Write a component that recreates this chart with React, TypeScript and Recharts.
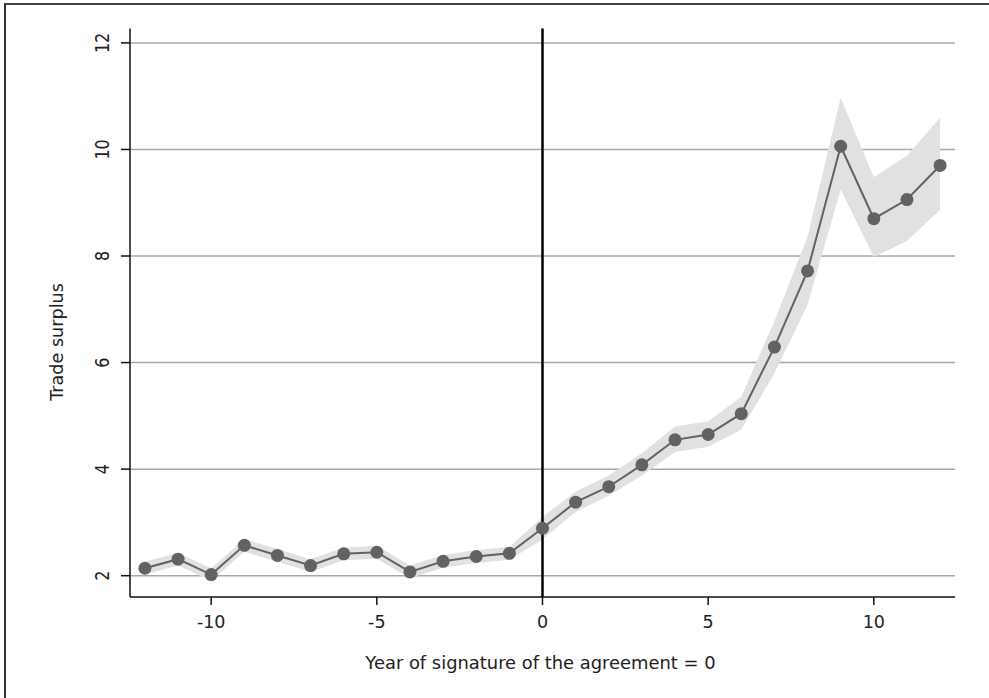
import React from 'react'
import { ComposedChart, Line, Area, XAxis, YAxis, CartesianGrid, ReferenceLine } from 'recharts'

const years = [-12, -11, -10, -9, -8, -7, -6, -5, -4, -3, -2, -1, 0, 1, 2, 3, 4, 5, 6, 7, 8, 9, 10, 11, 12]
const estimate = [2.14, 2.31, 2.02, 2.57, 2.38, 2.19, 2.41, 2.44, 2.07, 2.27, 2.36, 2.42, 2.89, 3.38, 3.67, 4.08, 4.55, 4.65, 5.04, 6.29, 7.72, 10.06, 8.7, 9.06, 9.7]
const lower = [2.02, 2.19, 1.9, 2.45, 2.26, 2.07, 2.29, 2.32, 1.95, 2.15, 2.24, 2.3, 2.68, 3.2, 3.5, 3.88, 4.32, 4.42, 4.74, 5.8, 7.08, 9.25, 7.98, 8.28, 8.87]
const upper = [2.26, 2.43, 2.14, 2.69, 2.5, 2.31, 2.53, 2.56, 2.19, 2.39, 2.48, 2.54, 3.1, 3.58, 3.88, 4.3, 4.8, 4.9, 5.36, 6.78, 8.36, 10.97, 9.48, 9.88, 10.6]
const xTicks = [-10, -5, 0, 5, 10]
const yTicks = [2, 4, 6, 8, 10, 12]

const data = years.map((year, i) => ({ year, est: estimate[i], band: [lower[i], upper[i]] }))

const font = '"DejaVu Sans", sans-serif'

// y labels look horizontally stretched in the original, so scale them a bit
const YTick = (props: any) => {
  const { x, y, payload } = props
  const tx = x - 10
  return (
    <text
      x={0}
      y={0}
      transform={`translate(${tx} ${y}) scale(1.25 1) rotate(-90)`}
      textAnchor="middle"
      fill="#222"
      fontSize={16}
      fontFamily={font}
    >
      {payload.value}
    </text>
  )
}

const XTick = (props: any) => {
  const { x, y, payload } = props
  return (
    <text x={x} y={y + 21} textAnchor="middle" fill="#222" fontSize={17.5} fontFamily={font}>
      {payload.value}
    </text>
  )
}

export default function App() {
  return (
    <div style={{ position: 'absolute', left: 0, top: 0, width: 989, height: 698, background: '#fff', overflow: 'hidden' }}>
      <div style={{ position: 'absolute', left: 4, top: 3, width: 983, height: 720, borderLeft: '2px solid #333', borderTop: '2px solid #444', borderRight: '2px solid #444' }} />
      <ComposedChart width={989} height={698} data={data} margin={{ top: 28.5, right: 34, bottom: 71, left: 70 }} style={{ position: 'absolute', left: 0, top: 0 }}>
        <CartesianGrid vertical={false} horizontalValues={yTicks} stroke="#a8a8a8" strokeWidth={1.5} />
        <XAxis
          type="number"
          dataKey="year"
          domain={[-12.45, 12.45]}
          ticks={xTicks}
          allowDataOverflow
          stroke="#111"
          strokeWidth={1.5}
          tickSize={8}
          tick={<XTick />}
          height={30}
          label={(p: any) => {
            const vb = p.viewBox
            return (
              <text x={vb.x + vb.width / 2 - 2} y={669} textAnchor="middle" fill="#222" fontSize={17.9} fontFamily={font}>
                Year of signature of the agreement = 0
              </text>
            )
          }}
        />
        <YAxis
          type="number"
          domain={[1.6, 12.27]}
          ticks={yTicks}
          allowDataOverflow
          stroke="#111"
          strokeWidth={1.5}
          tickSize={9}
          tick={<YTick />}
          width={60}
          label={() => {
            const cx = 63
            const cy = 342
            return (
              <text x={cx} y={cy} transform={`rotate(-90 ${cx} ${cy})`} textAnchor="middle" fill="#222" fontSize={17.6} fontFamily={font}>
                Trade surplus
              </text>
            )
          }}
        />
        <Area type="linear" dataKey="band" fill="#e1e1e1" fillOpacity={1} stroke="none" isAnimationActive={false} legendType="none" />
        <ReferenceLine x={0} stroke="#000" strokeWidth={2.5} />
        <Line type="linear" dataKey="est" stroke="#626262" strokeWidth={2} dot={{ r: 6.5, fill: '#626262', stroke: 'none' }} activeDot={false} isAnimationActive={false} />
      </ComposedChart>
    </div>
  )
}
